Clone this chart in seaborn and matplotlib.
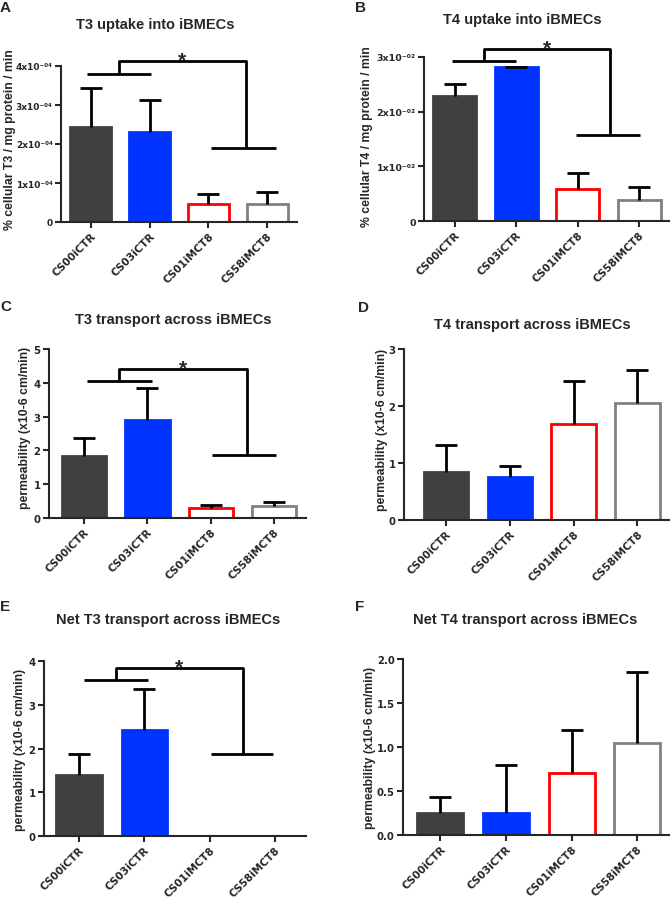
"""
Thyroid hormone uptake / transport in iBMECs, six bar panels (A-F).
"""

import numpy as np
import pandas as pd
import matplotlib
matplotlib.use("Agg")
import matplotlib.pyplot as plt
import seaborn as sns

sns.set_style("ticks")
plt.rcParams['font.family'] = ['Liberation Sans', 'DejaVu Sans']
plt.rcParams['font.weight'] = 'bold'
plt.rcParams['axes.labelweight'] = 'bold'

# ---- data ----
categories = ["CS00iCTR", "CS03iCTR", "CS01iMCT8", "CS58iMCT8"]
face_colors = ["#404040", "#0033ff", "#ffffff", "#ffffff"]
edge_colors = ["#404040", "#0033ff", "#ff0000", "#808080"]

t3_uptake_mean = [2.44e-4, 2.30e-4, 0.45e-4, 0.45e-4]
t3_uptake_sem = [1.00e-4, 0.83e-4, 0.27e-4, 0.33e-4]
t4_uptake_mean = [2.28e-2, 2.81e-2, 0.58e-2, 0.38e-2]
t4_uptake_sem = [0.23e-2, 0.01e-2, 0.30e-2, 0.25e-2]
t3_transport_mean = [1.84, 2.91, 0.30, 0.36]
t3_transport_sem = [0.54, 0.93, 0.08, 0.12]
t4_transport_mean = [0.84, 0.76, 1.68, 2.05]
t4_transport_sem = [0.48, 0.19, 0.76, 0.59]
net_t3_mean = [1.39, 2.42, 0.0, 0.0]
net_t3_sem = [0.49, 0.93, np.nan, np.nan]
net_t4_mean = [0.255, 0.255, 0.71, 1.05]
net_t4_sem = [0.175, 0.535, 0.48, 0.80]

uptake_e4_ticks = [0, 1e-4, 2e-4, 3e-4, 4e-4]
uptake_e4_labels = ["0", "1x10⁻⁰⁴", "2x10⁻⁰⁴", "3x10⁻⁰⁴", "4x10⁻⁰⁴"]
uptake_e2_ticks = [0, 1e-2, 2e-2, 3e-2]
uptake_e2_labels = ["0", "1x10⁻⁰²", "2x10⁻⁰²", "3x10⁻⁰²"]

# significance brackets: (x0, x1, y) for each group line, join = (x_left, x_right, y_top)
sig_a = dict(left=(-0.07, 1.02, 3.79e-4), right=(2.05, 3.15, 1.90e-4), join=(0.47, 2.64, 4.12e-4))
sig_b = dict(left=(-0.05, 0.99, 2.93e-2), right=(1.97, 3.02, 1.57e-2), join=(0.47, 2.53, 3.14e-2))
sig_c = dict(left=(0.05, 1.08, 4.05), right=(2.02, 3.03, 1.87), join=(0.55, 2.57, 4.41))
sig_e = dict(left=(0.08, 1.06, 3.56), right=(2.02, 2.97, 1.87), join=(0.56, 2.51, 3.83))

W, H = 670, 904
fig = plt.figure(figsize=(W / 100, H / 100), dpi=100)
TICK_FONT = dict(family=['DejaVu Sans'], weight='bold')


def add_axes_px(left, top, right, bottom):
    return fig.add_axes([left / W, 1 - bottom / H, (right - left) / W, (bottom - top) / H])


def bar_panel(ax, means, sems, ylim, yticks, yticklabels, xlim, ysize=7.3):
    df = pd.DataFrame({"line": categories, "value": means})
    sns.barplot(data=df, x="line", y="value", hue="line", palette=face_colors,
                width=0.7, saturation=1, legend=False, ax=ax)
    for patch, ec, val in zip(ax.patches, edge_colors, means):
        patch.set_edgecolor(ec)
        patch.set_linewidth(2 if val > 0 else 0)
    xs = np.arange(len(categories))
    lower = np.zeros(len(categories))
    _, caps, _ = ax.errorbar(xs, means, yerr=[lower, sems], fmt='none', ecolor='black',
                             elinewidth=2, capsize=8, capthick=2, clip_on=False, zorder=3)
    caps[0].set_visible(False)
    ax.set_xlim(*xlim)
    ax.set_ylim(*ylim)
    ax.set_yticks(yticks)
    ax.set_yticklabels(yticklabels, fontsize=ysize, **TICK_FONT)
    ax.set_xticks(xs)
    ax.set_xticklabels(categories, rotation=45, ha='right', rotation_mode='anchor',
                       fontsize=7.6, **TICK_FONT)
    ax.set_xlabel('')
    ax.set_ylabel('')
    sns.despine(ax=ax)
    for s in ('left', 'bottom'):
        ax.spines[s].set_linewidth(1.5)
    ax.tick_params(axis='both', width=1.5, length=4, pad=2)


def bracket(ax, sig):
    l0, l1, ly = sig['left']
    r0, r1, ry = sig['right']
    jx0, jx1, jy = sig['join']
    kw = dict(color='black', lw=2, clip_on=False, solid_capstyle='butt')
    ax.plot([l0, l1], [ly, ly], **kw)
    ax.plot([jx0, jx0, jx1, jx1], [ly, jy, jy, ry], **kw)
    ax.plot([r0, r1], [ry, ry], **kw)
    ax.annotate('*', xy=((jx0 + jx1) / 2, jy), xytext=(0, -3), textcoords='offset points',
                ha='center', va='baseline', fontsize=15, fontweight='bold',
                annotation_clip=False)


# ---- panels ----
ax_a = add_axes_px(61, 67, 297, 223)
bar_panel(ax_a, t3_uptake_mean, t3_uptake_sem, (0, 4e-4), uptake_e4_ticks, uptake_e4_labels,
          (-0.51, 3.51), ysize=6.5)
bracket(ax_a, sig_a)

ax_b = add_axes_px(424, 58, 670, 222)
bar_panel(ax_b, t4_uptake_mean, t4_uptake_sem, (0, 3e-2), uptake_e2_ticks, uptake_e2_labels,
          (-0.5, 3.5), ysize=6.8)
bracket(ax_b, sig_b)

ax_c = add_axes_px(49, 350, 306, 519)
bar_panel(ax_c, t3_transport_mean, t3_transport_sem, (0, 5), range(6), [str(i) for i in range(6)], (-0.55, 3.5))
bracket(ax_c, sig_c)

ax_d = add_axes_px(404, 350, 670, 521)
bar_panel(ax_d, t4_transport_mean, t4_transport_sem, (0, 3), range(4), [str(i) for i in range(4)], (-0.66, 3.51))

ax_e = add_axes_px(44, 662, 306, 837)
bar_panel(ax_e, net_t3_mean, net_t3_sem, (0, 4), range(5), [str(i) for i in range(5)], (-0.54, 3.48))
bracket(ax_e, sig_e)

ax_f = add_axes_px(403, 660, 670, 836)
bar_panel(ax_f, net_t4_mean, net_t4_sem, (0, 2), [0, 0.5, 1.0, 1.5, 2.0],
          ["0.0", "0.5", "1.0", "1.5", "2.0"], (-0.57, 3.5))

# ---- titles, panel letters, y labels ----
titles = ["T3 uptake into iBMECs", "T4 uptake into iBMECs", "T3 transport across iBMECs",
          "T4 transport across iBMECs", "Net T3 transport across iBMECs", "Net T4 transport across iBMECs"]
title_pos = [(155, 25), (522, 20), (173, 320), (532, 325), (168, 620), (525, 620)]
letters = ["A", "B", "C", "D", "E", "F"]
letter_pos = [(0, 8), (355, 8), (0, 307), (358, 308), (0, 607), (355, 607)]
ylabels = ["% cellular T3 / mg protein / min", "% cellular T4 / mg protein / min"] + \
          ["permeability (x10-6 cm/min)"] * 4
ylabel_pos = [(10, 140), (367, 137), (25, 428), (382, 430), (20, 750), (370, 748)]

for t, (x, y) in zip(titles, title_pos):
    fig.text(x / W, 1 - y / H, t, ha='center', va='center', fontsize=10.5, fontweight='bold')
for t, (x, y) in zip(letters, letter_pos):
    fig.text(x / W, 1 - y / H, t, ha='left', va='center', fontsize=11, fontweight='bold')
for t, (x, y) in zip(ylabels, ylabel_pos):
    fig.text(x / W, 1 - y / H, t, ha='center', va='center', rotation=90, fontsize=8.8, fontweight='bold')

plt.savefig("out.png", dpi=100)
